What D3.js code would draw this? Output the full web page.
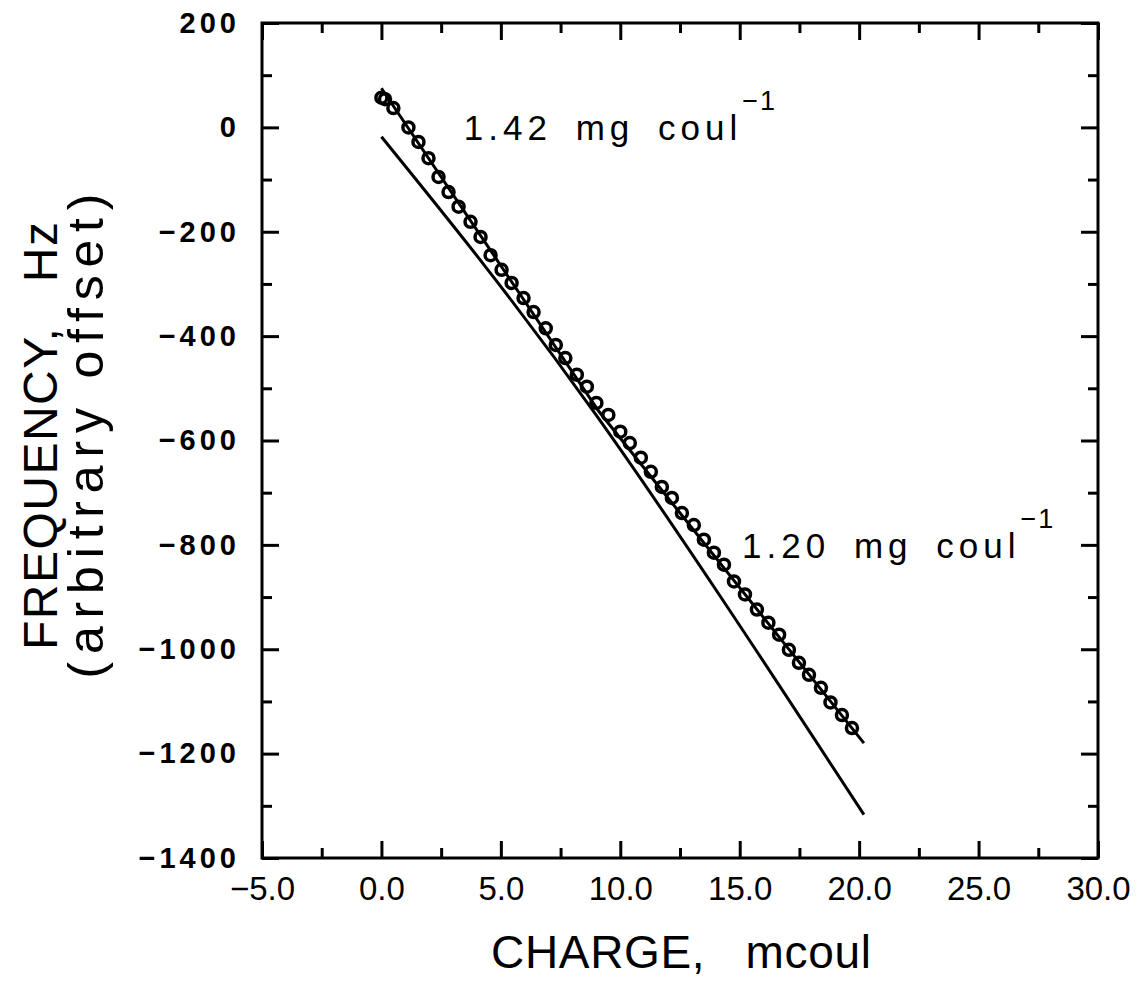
<!DOCTYPE html>
<html><head><meta charset="utf-8">
<script src="https://cdn.jsdelivr.net/npm/d3@7"></script>
<style>
html,body{margin:0;padding:0;background:#fff;}
svg{display:block;}
</style></head>
<body>
<svg id="c" width="1148" height="995"></svg>
<script>
// ---- data ----
const charge = [0.0, 0.15, 0.5, 1.13, 1.55, 1.97, 2.39, 2.81, 3.23, 3.73, 4.15, 4.57, 5.03, 5.45, 5.95, 6.37, 6.88, 7.3, 7.7, 8.18, 8.6, 9.0, 9.5, 10.0, 10.4, 10.86, 11.28, 11.74, 12.16, 12.58, 13.08, 13.5, 13.92, 14.34, 14.76, 15.22, 15.72, 16.2, 16.65, 17.06, 17.48, 17.9, 18.4, 18.8, 19.28, 19.7];
const freq = [57, 54, 37, 0, -28, -59, -95, -124, -152, -181, -210, -245, -273, -298, -327, -354, -385, -417, -442, -474, -497, -528, -551, -583, -605, -633, -660, -689, -710, -739, -762, -790, -815, -838, -870, -895, -924, -949, -972, -1001, -1026, -1049, -1074, -1102, -1126, -1151];
const fitX = [0, 9.1, 20.2];
const fitY = [75, -544, -1180];
const refX = [0, 9.0, 20.2];
const refY = [-18, -552, -1317];
const xTicks = [-5, 0, 5, 10, 15, 20, 25, 30];
const xMinor = [-2.5, 2.5, 7.5, 12.5, 17.5, 22.5, 27.5];
const yTicks = [200, 0, -200, -400, -600, -800, -1000, -1200, -1400];
const yMinor = [100, -100, -300, -500, -700, -900, -1100, -1300];
const xTitle = "CHARGE,   mcoul";
const yTitle1 = "FREQUENCY,   Hz";
const yTitle2 = "(arbitrary offset)";
const notes = [
  {x: 3.45, y: -24, text: "1.42 mg coul", sup: "−1"},
  {x: 15.1, y: -825, text: "1.20 mg coul", sup: "−1"}
];

// ---- layout ----
const L = 262, R = 1098, T = 23, B = 858;
const svg = d3.select("#c");
const x = d3.scaleLinear().domain([-5, 30]).range([L, R]);
const y = d3.scaleLinear().domain([-1400, 200]).range([B, T]);
const sw = 3;
const titleFont = "'Liberation Sans', Arial, sans-serif";

// frame
svg.append("rect").attr("x", L).attr("y", T).attr("width", R - L).attr("height", B - T)
  .attr("fill", "none").attr("stroke", "#000").attr("stroke-width", sw);

function tickStyle(g){ g.select(".domain").remove(); g.selectAll("line").attr("stroke","#000").attr("stroke-width",sw); }

// x axis bottom
const xfmt = d3.format(".1f");
svg.append("g").attr("transform", `translate(0,${B})`)
  .call(d3.axisBottom(x).tickValues(xTicks).tickSizeInner(-17).tickSizeOuter(0).tickPadding(30).tickFormat(xfmt))
  .call(tickStyle)
  .call(g => g.selectAll("text").attr("font-family","'Liberation Sans', Arial, sans-serif").attr("font-size",33).attr("fill","#000").attr("dy","0.35em"));
svg.append("g").attr("transform", `translate(0,${B})`)
  .call(d3.axisBottom(x).tickValues(xMinor).tickSizeInner(-10).tickSizeOuter(0).tickFormat(""))
  .call(tickStyle);
// x axis top
svg.append("g").attr("transform", `translate(0,${T})`)
  .call(d3.axisTop(x).tickValues(xTicks).tickSizeInner(-17).tickSizeOuter(0).tickFormat(""))
  .call(tickStyle);
svg.append("g").attr("transform", `translate(0,${T})`)
  .call(d3.axisTop(x).tickValues(xMinor).tickSizeInner(-10).tickSizeOuter(0).tickFormat(""))
  .call(tickStyle);
// y axis left
svg.append("g").attr("transform", `translate(${L},0)`)
  .call(d3.axisLeft(y).tickValues(yTicks).tickSizeInner(-17).tickSizeOuter(0).tickPadding(22).tickFormat(d3.format("d")))
  .call(tickStyle)
  .call(g => g.selectAll("text").attr("font-family","'Liberation Sans', Arial, sans-serif").attr("font-size",29).attr("font-weight","bold").attr("letter-spacing","4px").attr("fill","#000"));
svg.append("g").attr("transform", `translate(${L},0)`)
  .call(d3.axisLeft(y).tickValues(yMinor).tickSizeInner(-10).tickSizeOuter(0).tickFormat(""))
  .call(tickStyle);
// y axis right
svg.append("g").attr("transform", `translate(${R},0)`)
  .call(d3.axisRight(y).tickValues(yTicks).tickSizeInner(-17).tickSizeOuter(0).tickFormat(""))
  .call(tickStyle);
svg.append("g").attr("transform", `translate(${R},0)`)
  .call(d3.axisRight(y).tickValues(yMinor).tickSizeInner(-10).tickSizeOuter(0).tickFormat(""))
  .call(tickStyle);

// titles
svg.append("text").attr("x", 681).attr("y", 968).attr("text-anchor","middle")
  .attr("font-family",titleFont).attr("font-size",46)
  .attr("textLength",380).attr("lengthAdjust","spacing")
  .style("white-space","pre").text(xTitle);
svg.append("text").attr("transform", `translate(57,436) rotate(-90)`).attr("text-anchor","middle")
  .attr("font-family",titleFont).attr("font-size",48)
  .attr("textLength",428).attr("lengthAdjust","spacing")
  .style("white-space","pre").text(yTitle1);
svg.append("text").attr("transform", `translate(103,436) rotate(-90)`).attr("text-anchor","middle")
  .attr("font-family",titleFont).attr("font-size",50)
  .attr("textLength",485).attr("lengthAdjust","spacing")
  .style("white-space","pre").text(yTitle2);

// lines
svg.append("path").attr("d", d3.line().curve(d3.curveNatural).x(d => x(d[0])).y(d => y(d[1]))(refX.map((v, i) => [v, refY[i]])))
  .attr("fill","none").attr("stroke","#000").attr("stroke-width",3);
svg.append("path").attr("d", d3.line().x(d => x(d[0])).y(d => y(d[1]))(fitX.map((v, i) => [v, fitY[i]])))
  .attr("fill","none").attr("stroke","#000").attr("stroke-width",3);

// markers
svg.append("g").selectAll("circle").data(charge.map((v, i) => [v, freq[i]])).join("circle")
  .attr("cx", d => x(d[0])).attr("cy", d => y(d[1])).attr("r", 5.5)
  .attr("fill","none").attr("stroke","#000").attr("stroke-width",3.5);

// annotations
notes.forEach(n => {
  const t = svg.append("text").attr("x", x(n.x)).attr("y", y(n.y))
    .attr("font-family","'Liberation Sans', Arial, sans-serif").attr("font-size",35)
    .attr("letter-spacing","5px").attr("word-spacing","9px").attr("fill","#000");
  t.append("tspan").text(n.text);
  t.append("tspan").attr("dy", -30).attr("font-size",27).attr("letter-spacing","2px").text(n.sup);
});
</script>
</body></html>
